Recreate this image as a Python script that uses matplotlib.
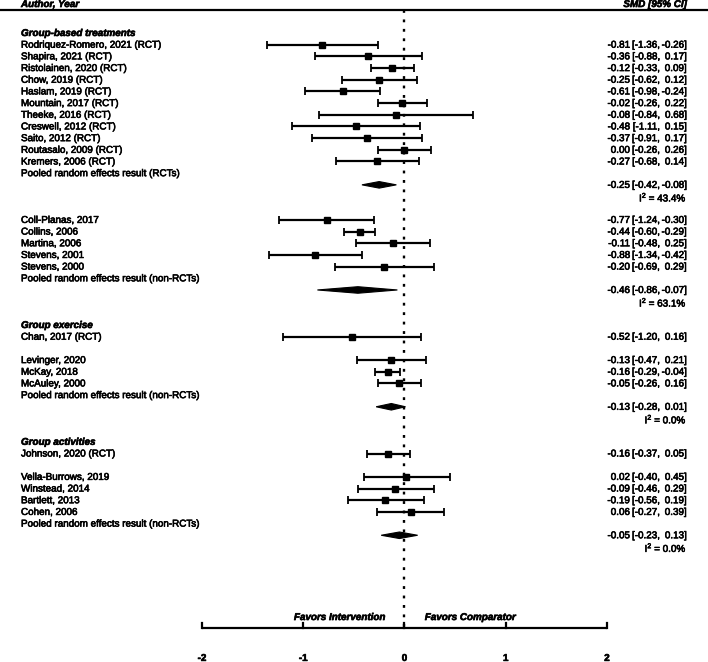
import numpy as np
import matplotlib
matplotlib.use("Agg")
import matplotlib.pyplot as plt
from matplotlib.patches import Polygon
import matplotlib.patheffects as pe

plt.rcParams['font.family'] = ['Liberation Sans', 'DejaVu Sans']
plt.rcParams['mathtext.fontset'] = 'custom'
plt.rcParams['mathtext.rm'] = 'Liberation Sans'
plt.rcParams['mathtext.default'] = 'regular'

# --- donnees ---
study_labels = [
    "Rodriquez-Romero, 2021 (RCT)", "Shapira, 2021 (RCT)", "Ristolainen, 2020 (RCT)",
    "Chow, 2019 (RCT)", "Haslam, 2019 (RCT)", "Mountain, 2017 (RCT)", "Theeke, 2016 (RCT)",
    "Creswell, 2012 (RCT)", "Saito, 2012 (RCT)", "Routasalo, 2009 (RCT)", "Kremers, 2006 (RCT)",
    "Coll-Planas, 2017", "Collins, 2006", "Martina, 2006", "Stevens, 2001", "Stevens, 2000",
    "Chan, 2017 (RCT)",
    "Levinger, 2020", "McKay, 2018", "McAuley, 2000",
    "Johnson, 2020 (RCT)",
    "Vella-Burrows, 2019", "Winstead, 2014", "Bartlett, 2013", "Cohen, 2006",
]
study_rows = [1, 2, 3, 4, 5, 6, 7, 8, 9, 10, 11,
              16, 17, 18, 19, 20,
              26,
              28, 29, 30,
              36,
              38, 39, 40, 41]
study_est = [-0.81, -0.36, -0.12, -0.25, -0.61, -0.02, -0.08, -0.48, -0.37, 0.00, -0.27,
             -0.77, -0.44, -0.11, -0.88, -0.20,
             -0.52,
             -0.13, -0.16, -0.05,
             -0.16,
             0.02, -0.09, -0.19, 0.06]
study_lo = [-1.36, -0.88, -0.33, -0.62, -0.98, -0.26, -0.84, -1.11, -0.91, -0.26, -0.68,
            -1.24, -0.60, -0.48, -1.34, -0.69,
            -1.20,
            -0.47, -0.29, -0.26,
            -0.37,
            -0.40, -0.46, -0.56, -0.27]
study_hi = [-0.26, 0.17, 0.09, 0.12, -0.24, 0.22, 0.68, 0.15, 0.17, 0.26, 0.14,
            -0.30, -0.29, 0.25, -0.42, 0.29,
            0.16,
            0.21, -0.04, 0.16,
            0.05,
            0.45, 0.29, 0.19, 0.39]

group_labels = ["Group-based treatments", "Group exercise", "Group activities"]
group_rows = [0, 25, 35]

pooled_labels = ["Pooled random effects result (RCTs)", "Pooled random effects result (non-RCTs)",
                 "Pooled random effects result (non-RCTs)", "Pooled random effects result (non-RCTs)"]
pooled_rows = [12, 21, 31, 42]
pooled_est = [-0.25, -0.46, -0.13, -0.05]
pooled_lo = [-0.42, -0.86, -0.28, -0.23]
pooled_hi = [-0.08, -0.07, 0.01, 0.13]
pooled_i2 = [43.4, 63.1, 0.0, 0.0]

xticks = [-2, -1, 0, 1, 2]

fs = 7.1
epais = [pe.withStroke(linewidth=0.45, foreground='black')]  # texte un peu plus gras, comme l'original

fig = plt.figure(figsize=(7.08, 6.62), dpi=100)
ax = fig.add_axes([0, 0, 1, 1])
ax.set_xlim(-3.995, 2.998)
ax.set_ylim(53.85, -2.825)
ax.axis('off')
tr = ax.get_yaxis_transform()  # x en fraction d'axe, y en donnees

x_left = 21 / 708
x_est = 630 / 708
x_lo = 660 / 708
x_hi = 687 / 708

def texte(x, y, s, **kw):
    kw.setdefault('transform', tr)
    kw.setdefault('va', 'center')
    return ax.text(x, y, s, fontsize=fs, path_effects=epais, **kw)

def valeurs(y, e, l, h):
    texte(x_est, y, f"{e:.2f}", ha='right')
    texte(x_lo, y, f"[{l:.2f},", ha='right')
    texte(x_hi, y, f"{h:.2f}]", ha='right')

# en-tete
texte(x_left, -2.48, "Author, Year", ha='left', fontweight='bold', style='italic')
texte(x_hi, -2.48, "SMD [95% CI]", ha='right', fontweight='bold', style='italic')
ax.plot([0, 1], [-1.97, -1.97], transform=tr, color='black', lw=1.6, clip_on=False)

# ligne de reference
ax.plot([0, 0], [-1.97, 50.9], color='black', lw=1.7, linestyle=(0, (1.2, 2.8)), zorder=1)

# groupes
for lab, r in zip(group_labels, group_rows):
    texte(x_left, r, lab, ha='left', fontweight='bold', style='italic')

# etudes
est = np.array(study_est)
lo = np.array(study_lo)
hi = np.array(study_hi)
ax.errorbar(est, study_rows, xerr=[est - lo, hi - est], fmt='s', color='black',
            ms=5, elinewidth=1.6, capsize=3, capthick=1.3, zorder=3)
for lab, r, e, l, h in zip(study_labels, study_rows, study_est, study_lo, study_hi):
    texte(x_left, r, lab, ha='left')
    valeurs(r, e, l, h)

# resultats poolés
for lab, r, e, l, h, i2 in zip(pooled_labels, pooled_rows, pooled_est, pooled_lo, pooled_hi, pooled_i2):
    texte(x_left, r, lab, ha='left')
    yd = r + 1
    diam = Polygon([(l, yd), (e, yd - 0.28), (h, yd), (e, yd + 0.28)], closed=True,
                   facecolor='black', edgecolor='black', lw=0.8, zorder=3)
    ax.add_patch(diam)
    valeurs(yd, e, l, h)
    texte(x_hi, yd + 1, f"I$^{{2}}$ = {i2:.1f}%", ha='right')

# axe du bas
ya = 50.9
ax.plot([xticks[0], xticks[-1]], [ya, ya], color='black', lw=1.6, solid_capstyle='butt')
for t in xticks:
    ax.plot([t, t], [ya, ya - 0.43], color='black', lw=1.6)
    texte(t, 53.5, f"{t}", ha='center', transform=ax.transData, fontweight='bold')

texte(-0.64, 50.0, "Favors Intervention", ha='center', transform=ax.transData,
      fontweight='bold', style='italic')
texte(0.65, 50.0, "Favors Comparator", ha='center', transform=ax.transData,
      fontweight='bold', style='italic')

fig.savefig("out.png", dpi=100)
